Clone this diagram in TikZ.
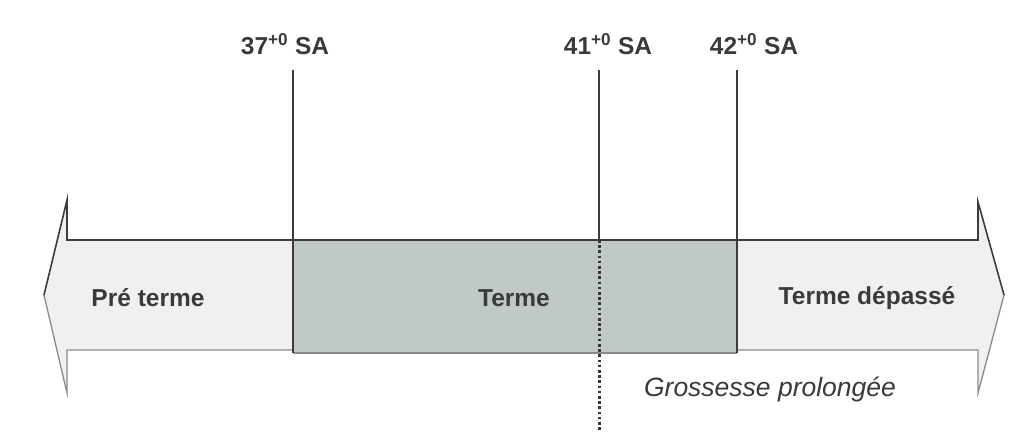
\documentclass[tikz,border=0pt]{standalone}
\usepackage{fontspec}
\setmainfont{Liberation Sans}
\definecolor{txt}{HTML}{3A3A3C}
\definecolor{edge}{HTML}{3C3C3E}
\definecolor{lightedge}{HTML}{8A8A8C}
\definecolor{shaft}{HTML}{F0F0F1}
\definecolor{termbox}{HTML}{C1C8C8}
\tikzset{
  lbl/.style={font=\fontsize{24.5}{28}\selectfont\bfseries, text=txt, inner sep=0pt},
  ital/.style={font=\fontsize{26.5}{30}\selectfont\itshape, text=txt, inner sep=0pt},
  mark line/.style={draw=edge, line width=1.8pt},
  dotline/.style={draw=edge!90!black, line width=3pt, dash pattern=on 2.6pt off 2.6pt},
}
\begin{document}
\begin{tikzpicture}[x=1pt,y=-1pt]
\useasboundingbox (0,0) rectangle (1024,441);
% double arrow body
\fill[shaft] (44,295) -- (67,200) -- (67,240) -- (978,240) -- (978,202) -- (1004,295)
  -- (978,393) -- (978,350) -- (67,350) -- (67,393) -- cycle;
% gray term box
\fill[termbox] (293,240) rectangle (737,353);
% outline: lighter lower parts
\draw[lightedge, line width=1.3pt] (293,350) -- (67,350) -- (67,393) -- (44,295);
\draw[lightedge, line width=1.3pt] (737,350) -- (978,350) -- (978,393) -- (1004,295);
\draw[lightedge, line width=1.3pt] (293,353) -- (737,353);
% outline: darker upper parts
\draw[edge, line width=1.6pt] (44,295) -- (67,200) -- (67,240) -- (293,240);
\draw[edge, line width=2.2pt] (293,240) -- (737,240);
\draw[edge, line width=1.6pt] (737,240) -- (978,240) -- (978,202) -- (1004,295);
% markers
\node[lbl] (l37) at (285,44) {37\textsuperscript{+0} SA};
\node[lbl] (l41) at (608,44) {41\textsuperscript{+0} SA};
\node[lbl] (l42) at (754,44) {42\textsuperscript{+0} SA};
\coordinate (t37) at (293,70);
\coordinate (b37) at (293,353);
\coordinate (t41) at (599,70);
\coordinate (m41) at (599,240);
\coordinate (b41) at (599,430);
\coordinate (t42) at (737,70);
\coordinate (b42) at (737,353);
\draw[mark line] (t37) -- (b37);
\draw[mark line] (t41) -- (m41);
\draw[dotline] (m41) -- (b41);
\draw[mark line] (t42) -- (b42);
% region labels
\node[lbl] (pre) at (148,298) {Pré terme};
\node[lbl] (terme) at (514,298) {Terme};
\node[lbl] (dep) at (867,298) {Terme dépassé};
\node[ital] (gp) at (770,389) {Grossesse prolongée};
\end{tikzpicture}
\end{document}
